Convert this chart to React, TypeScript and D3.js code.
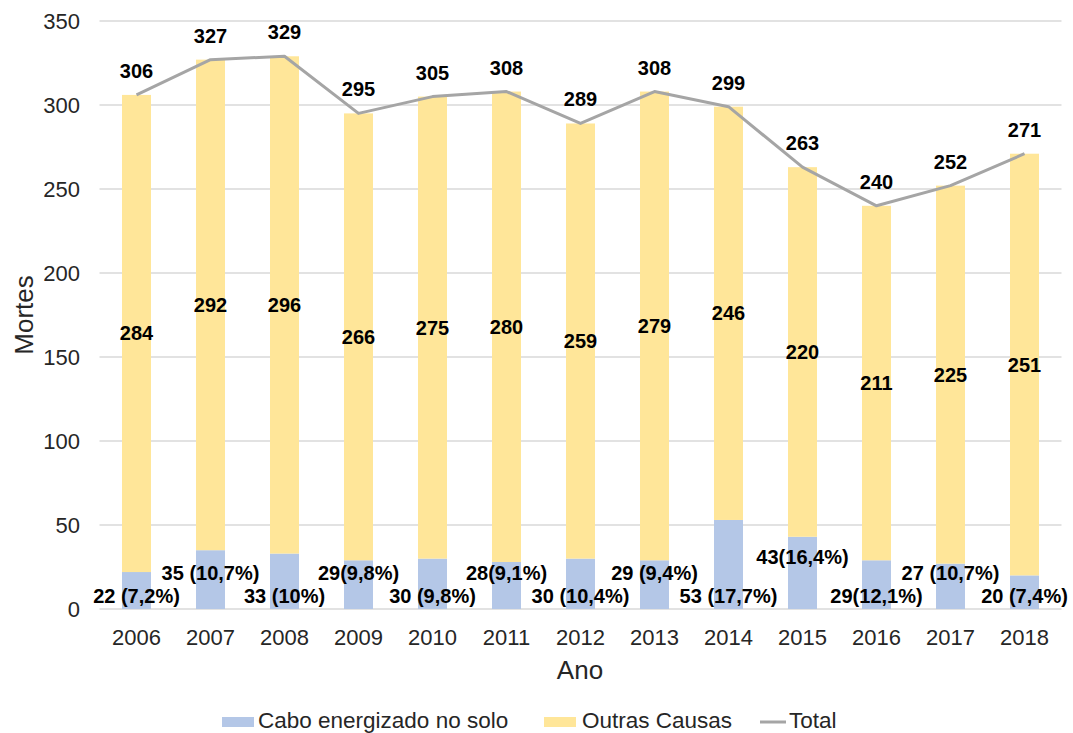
import React from "react";
import * as d3 from "d3";

const years = ["2006","2007","2008","2009","2010","2011","2012","2013","2014","2015","2016","2017","2018"];
const cabo = [22,35,33,29,30,28,30,29,53,43,29,27,20];
const caboPct = ["7,2%","10,7%","10%","9,8%","9,8%","9,1%","10,4%","9,4%","17,7%","16,4%","12,1%","10,7%","7,4%"];
const caboSpaced = [true,true,true,false,true,false,true,true,true,false,false,true,true];
const outras = [284,292,296,266,275,280,259,279,246,220,211,225,251];
const totals = [306,327,329,295,305,308,289,308,299,263,240,252,271];
const yTicks = [0,50,100,150,200,250,300,350];

const W = 1073, H = 733;
const FONT = "'Liberation Sans', Arial, sans-serif";
const BLUE = "#b4c7e7", YELLOW = "#ffe699", GRAY = "#a5a5a5";

export default function App() {
  const x = d3.scaleBand().domain(years).range([99.5, 1061.5]).paddingInner(0.608).paddingOuter(0.304);
  const y = d3.scaleLinear().domain([0, 350]).range([609, 21]);
  const bw = x.bandwidth();
  const cx = (i: number) => (x(years[i]) as number) + bw / 2;
  const line = d3.line<number>().x((_, i) => cx(i)).y((d) => y(d));

  return (
    <div style={{ position: "fixed", left: 0, top: 0 }}>
      <svg width={W} height={H} style={{ display: "block", background: "#fff" }} fontFamily={FONT}>
        {yTicks.map((t) => (
          <g key={t}>
            <line x1={99.5} x2={1061.5} y1={y(t)} y2={y(t)} stroke="#d9d9d9" strokeWidth={1.3} />
            <text x={80} y={y(t)} dy="0.35em" textAnchor="end" fontSize={22} fill="#262626">{t}</text>
          </g>
        ))}
        {years.map((yr, i) => (
          <g key={yr}>
            <rect x={x(yr)} width={bw} y={y(cabo[i])} height={y(0) - y(cabo[i])} fill={BLUE} />
            <rect x={x(yr)} width={bw} y={y(cabo[i] + outras[i])} height={y(cabo[i]) - y(cabo[i] + outras[i])} fill={YELLOW} />
            <text x={cx(i)} y={645} textAnchor="middle" fontSize={22} fill="#262626">{yr}</text>
          </g>
        ))}
        <path d={line(totals) as string} fill="none" stroke={GRAY} strokeWidth={3} strokeLinejoin="round" />
        {years.map((yr, i) => (
          <g key={"l" + yr} fontWeight="bold" fontSize={20} fill="#000" textAnchor="middle">
            <text x={cx(i)} y={y(cabo[i] + outras[i] / 2)} dy="0.35em">{outras[i]}</text>
            <text x={cx(i)} y={y(totals[i]) - 17}>{totals[i]}</text>
            <text x={cx(i)} y={y(i % 2 === 0 ? 8 : (cabo[i] > 40 ? 31 : 21.5))} dy="0.35em">
              {cabo[i] + (caboSpaced[i] ? " " : "") + "(" + caboPct[i] + ")"}
            </text>
          </g>
        ))}
        <text transform={`translate(33,315) rotate(-90)`} textAnchor="middle" fontSize={26} fill="#262626">Mortes</text>
        <text x={580} y={679} textAnchor="middle" fontSize={26} fill="#262626">Ano</text>
        <g fontSize={22.5} fill="#262626">
          <rect x={222} y={717} width={32} height={10} fill={BLUE} />
          <text x={258} y={728}>Cabo energizado no solo</text>
          <rect x={544} y={717} width={32} height={10} fill={YELLOW} />
          <text x={582} y={728}>Outras Causas</text>
          <line x1={760} x2={786} y1={722} y2={722} stroke={GRAY} strokeWidth={3} />
          <text x={789} y={728}>Total</text>
        </g>
      </svg>
    </div>
  );
}
